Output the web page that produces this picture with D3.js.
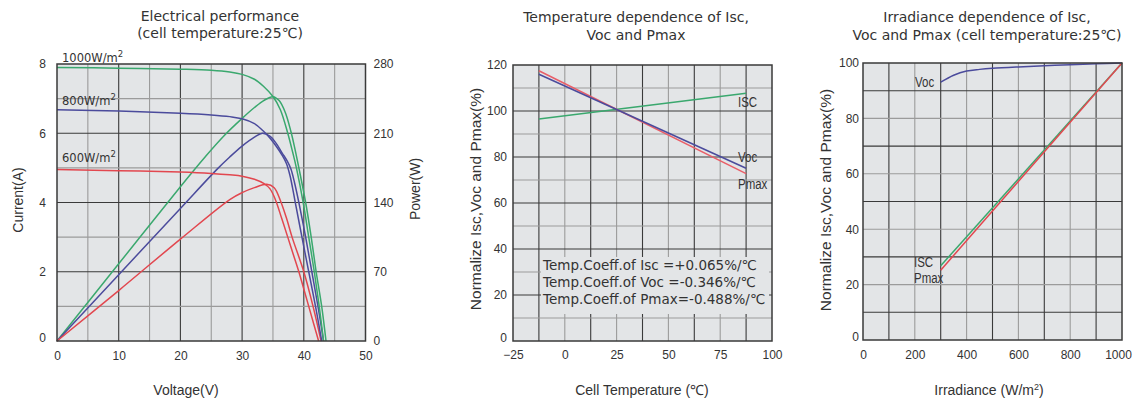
<!DOCTYPE html>
<html><head><meta charset="utf-8">
<script src="https://cdn.jsdelivr.net/npm/d3@7"></script>
<style>
body{margin:0;background:#fff;}
svg{display:block;font-family:"Liberation Sans",Arial,sans-serif;}
</style></head><body>
<svg id="c" width="1133" height="400"></svg>
<script>
// ---------------- DATA ----------------
// Panel 1: Electrical performance (I-V and P-V curves)
const voltageTicks = [0, 10, 20, 30, 40, 50];
const currentTicks = [0, 2, 4, 6, 8];
const powerTicks = [0, 70, 140, 210, 280];
const irradianceLevels = ["1000", "800", "600"];
// [voltage V, current A]
const iv1000 = [[0,7.9],[10,7.88],[20,7.85],[25,7.82],[28,7.77],[30,7.7],[32,7.56],[33.5,7.35],[35,7.06],[36.2,6.68],[37.4,6.0],[38.2,5.45],[38.8,5.0],[39.9,4.0],[40.8,3.0],[41.7,2.0],[42.5,1.0],[43.2,0]];
const iv800  = [[0,6.68],[10,6.64],[20,6.58],[25,6.53],[28,6.48],[30,6.42],[32,6.28],[33.4,6.07],[34.5,5.86],[35.5,5.63],[36.5,5.36],[37.2,5.12],[37.8,4.75],[38.2,4.4],[38.6,4.02],[39.7,3.0],[40.8,2.0],[41.9,1.0],[42.9,0]];
const iv600  = [[0,4.95],[10,4.92],[20,4.88],[25,4.84],[28,4.8],[30,4.76],[32,4.67],[33.5,4.55],[34.5,4.4],[35.4,4.08],[36.4,3.55],[37.4,3.0],[38.3,2.5],[39.2,2.0],[40.0,1.5],[40.8,1.0],[41.6,0.5],[42.4,0]];
// [voltage V, power W]
const pv1000 = [[0,0],[10,78],[20,156],[24,186],[27,207],[30,225],[32,236],[33.5,243],[35,247],[36,243],[37,231],[37.9,212],[38.5,196],[39.2,175],[40.3,140],[41.2,105],[42.0,70],[42.9,35],[43.6,0]];
const pv800  = [[0,0],[10,67],[20,134],[26,174],[28,186],[30,197],[32,206],[33.3,210],[34.5,207],[35.5,200],[36.5,190],[37.3,182],[37.9,174],[38.5,160],[39.2,140],[40.3,105],[41.3,70],[42.3,35],[43.2,0]];
const pv600  = [[0,0],[10,51],[20,103],[28,143],[30,150],[32,155],[34,158.5],[35.2,155],[36.2,142],[37.2,124],[38.1,105],[40,70],[41.5,35],[42.8,0]];

// Panel 2: Temperature dependence
const tempTicks = [-25, 0, 25, 50, 75, 100];
const normTempTicks = [0, 20, 40, 60, 80, 100, 120];
const tempPoints = [-12.5, 87.5];
const iscTemp  = [96.5, 107.7];
const vocTemp  = [116.0, 75.1];
const pmaxTemp = [117.5, 72.8];
const coeffLines = ["Temp.Coeff.of Isc =+0.065%/\u2103", "Temp.Coeff.of Voc =-0.346%/\u2103", "Temp.Coeff.of Pmax=-0.488%/\u2103"];

// Panel 3: Irradiance dependence
const irrTicks = [0, 200, 400, 600, 800, 1000];
const normIrrTicks = [0, 20, 40, 60, 80, 100];
const vocIrrX = [300, 350, 400, 450, 500, 600, 700, 800, 900, 1000];
const vocIrr  = [93.1, 95.6, 97.1, 97.7, 98.1, 98.6, 99.0, 99.4, 99.7, 100];
const linIrrX = [300, 1000];
const iscIrr  = [26.8, 100];
const pmaxIrr = [25.2, 100];

// ---------------- DRAWING ----------------
const svg = d3.select("#c");
const BG = "#e3e5e7", DARK = "#3a3a3a", LIGHT = "#9b9b9b", TXT = "#333";
const GREEN = "#3aa86e", BLUE = "#4b4b9c", RED = "#e2474f", PINK = "#e95e68";
const TITLE_FONT = "'DejaVu Sans',sans-serif";
const fmt = d3.format("d");

function panel(x, y, xGrid, xDark, yGrid, yDark) {
  const g = svg.append("g");
  const [xa, xb] = x.range(), [ya, yb] = y.range();
  g.append("rect").attr("x", xa).attr("y", yb).attr("width", xb - xa).attr("height", ya - yb).attr("fill", BG);
  g.selectAll(null).data(xGrid).join("line")
    .attr("x1", d => x(d)).attr("x2", d => x(d)).attr("y1", ya).attr("y2", yb)
    .attr("stroke", d => xDark(d) ? DARK : LIGHT).attr("stroke-width", 1.1);
  g.selectAll(null).data(yGrid).join("line")
    .attr("y1", d => y(d)).attr("y2", d => y(d)).attr("x1", xa).attr("x2", xb)
    .attr("stroke", d => yDark(d) ? DARK : LIGHT).attr("stroke-width", 1.1);
  return g;
}
function border(x, y) {
  const [xa, xb] = x.range(), [ya, yb] = y.range();
  svg.append("rect").attr("x", xa).attr("y", yb).attr("width", xb - xa).attr("height", ya - yb)
    .attr("fill", "none").attr("stroke", "#3a3a3a").attr("stroke-width", 1.5);
}
function styleAxis(g) {
  g.select(".domain").remove();
  g.selectAll("text").attr("fill", TXT).attr("font-size", 12).attr("font-family", "'Liberation Sans',Arial,sans-serif");
}
function bottomAxis(x, y0, ticks, pad) {
  return svg.append("g").attr("transform", `translate(0,${y0})`)
    .call(d3.axisBottom(x).tickValues(ticks).tickFormat(fmt).tickSize(0).tickPadding(pad)).call(styleAxis);
}
function leftAxis(y, x0, ticks, pad) {
  const g = svg.append("g").attr("transform", `translate(${x0},0)`)
    .call(d3.axisLeft(y).tickValues(ticks).tickFormat(fmt).tickSize(0).tickPadding(pad)).call(styleAxis);
  g.selectAll(".tick").filter(d => d === 0).select("text").attr("dy", "0.0em");
  return g;
}
function vLabel(xc, yc, text, size) {
  svg.append("text").attr("transform", `translate(${xc},${yc}) rotate(-90)`)
    .attr("text-anchor", "middle").attr("dominant-baseline", "central")
    .attr("font-size", size).attr("fill", TXT).text(text);
}
function title(xc, lines, y0, y1) {
  lines.forEach((t, i) => svg.append("text").attr("x", xc).attr("y", i ? y1 : y0)
    .attr("text-anchor", "middle").attr("font-family", TITLE_FONT).attr("font-size", 14)
    .attr("fill", TXT).text(t));
}
function narrowLabel(t, xx, yy) {
  svg.append("text").attr("transform", `translate(${xx},${yy}) scale(0.82,1)`)
    .attr("font-size", 14).attr("fill", TXT).text(t);
}
const smooth = d3.curveCatmullRom.alpha(0.5);
function drawLine(data, x, y, color) {
  svg.append("path").datum(data)
    .attr("d", d3.line().x(d => x(d[0])).y(d => y(d[1])).curve(smooth))
    .attr("fill", "none").attr("stroke", color).attr("stroke-width", 1.5);
}

// ---- Panel 1 ----
const x1 = d3.scaleLinear().domain([0, 50]).range([57, 365.5]);
const yI = d3.scaleLinear().domain([0, 8]).range([341, 64]);
const yP = d3.scaleLinear().domain([0, 280]).range([341, 64]);
panel(x1, yI, d3.range(5, 50, 5), v => v % 10 === 0, d3.range(1, 8, 1), v => v % 2 === 0);
[[pv1000, GREEN], [pv800, BLUE], [pv600, RED]].forEach(([d, c]) => drawLine(d, x1, yP, c));
[[iv1000, GREEN], [iv800, BLUE], [iv600, RED]].forEach(([d, c]) => drawLine(d, x1, yI, c));
border(x1, yI);
bottomAxis(x1, 341, voltageTicks, 10);
leftAxis(yI, 57, currentTicks, 11);
svg.append("g").attr("transform", "translate(365.5,0)")
  .call(d3.axisRight(yP).tickValues(powerTicks).tickFormat(fmt).tickSize(0).tickPadding(8)).call(styleAxis);
title(220, ["Electrical performance", "(cell temperature:25\u2103)"], 21, 38);
vLabel(18, 200, "Current(A)", 14);
vLabel(415, 189, "Power(W)", 14);
svg.append("text").attr("x", 186).attr("y", 395).attr("text-anchor", "middle").attr("font-size", 14).attr("fill", TXT).text("Voltage(V)");
const curveLabelY = [61.5, 105, 162];
irradianceLevels.forEach((lv, i) => {
  const t = svg.append("text").attr("x", 62).attr("y", curveLabelY[i]).attr("font-family", TITLE_FONT)
    .attr("font-size", 11.5).attr("fill", TXT);
  t.append("tspan").text(lv + "W/m");
  t.append("tspan").attr("dy", -5).attr("font-size", 8.5).text("2");
});

// ---- Panel 2 ----
const x2 = d3.scaleLinear().domain([-25, 100]).range([513, 772]);
const y2 = d3.scaleLinear().domain([0, 120]).range([341, 65]);
panel(x2, y2, d3.range(-12.5, 100, 12.5), v => Math.round(v / 12.5) % 2 !== 0, d3.range(10, 120, 10), v => v % 20 === 0);
svg.append("rect").attr("x", 541).attr("y", 257).attr("width", 228).attr("height", 57).attr("fill", BG);
const tempRows = k => tempPoints.map((t, i) => [t, k[i]]);
drawLine(tempRows(iscTemp), x2, y2, GREEN);
drawLine(tempRows(pmaxTemp), x2, y2, PINK);
drawLine(tempRows(vocTemp), x2, y2, BLUE);
border(x2, y2);
bottomAxis(x2, 341, tempTicks, 9.5);
leftAxis(y2, 513, normTempTicks, 6);
title(636, ["Temperature dependence of Isc,", "Voc and Pmax"], 22, 40);
vLabel(475, 199, "Normalize Isc,Voc and Pmax(%)", 15.5);
svg.append("text").attr("x", 642).attr("y", 395).attr("text-anchor", "middle").attr("font-size", 14).attr("fill", TXT).text("Cell Temperature (\u2103)");
[["ISC", 738, 107], ["Voc", 738, 162], ["Pmax", 738, 189]].forEach(([t, xx, yy]) => narrowLabel(t, xx, yy));
coeffLines.forEach((t, i) => svg.append("text").attr("x", 543).attr("y", 270 + i * 17)
  .attr("font-family", TITLE_FONT).attr("font-size", 13.5).attr("fill", TXT).text(t));

// ---- Panel 3 ----
const x3 = d3.scaleLinear().domain([0, 1000]).range([863, 1122]);
const y3 = d3.scaleLinear().domain([0, 100]).range([340, 63]);
panel(x3, y3, d3.range(100, 1000, 100), v => (v / 100) % 2 === 1, d3.range(10, 100, 10), v => (v / 10) % 2 === 1);
drawLine(vocIrrX.map((v, i) => [v, vocIrr[i]]), x3, y3, BLUE);
drawLine(linIrrX.map((v, i) => [v, iscIrr[i]]), x3, y3, GREEN);
drawLine(linIrrX.map((v, i) => [v, pmaxIrr[i]]), x3, y3, RED);
border(x3, y3);
const ax3 = bottomAxis(x3, 340, irrTicks, 10.5);
ax3.selectAll(".tick").filter(d => d === 1000).select("text").attr("dx", -4);
leftAxis(y3, 863, normIrrTicks, 4);
title(987, ["Irradiance dependence of Isc,", "Voc and Pmax (cell temperature:25\u2103)"], 22, 40);
vLabel(825, 200, "Normalize Isc,Voc and Pmax(%)", 15.5);
const irrLab = svg.append("text").attr("x", 989).attr("y", 395).attr("text-anchor", "middle").attr("font-size", 14).attr("fill", TXT);
irrLab.append("tspan").text("Irradiance (W/m");
irrLab.append("tspan").attr("dy", -5).attr("font-size", 9).text("2");
irrLab.append("tspan").attr("dy", 5).text(")");
[["Voc", 915, 87], ["ISC", 914, 267], ["Pmax", 914, 283]].forEach(([t, xx, yy]) => narrowLabel(t, xx, yy));
</script>
</body></html>
